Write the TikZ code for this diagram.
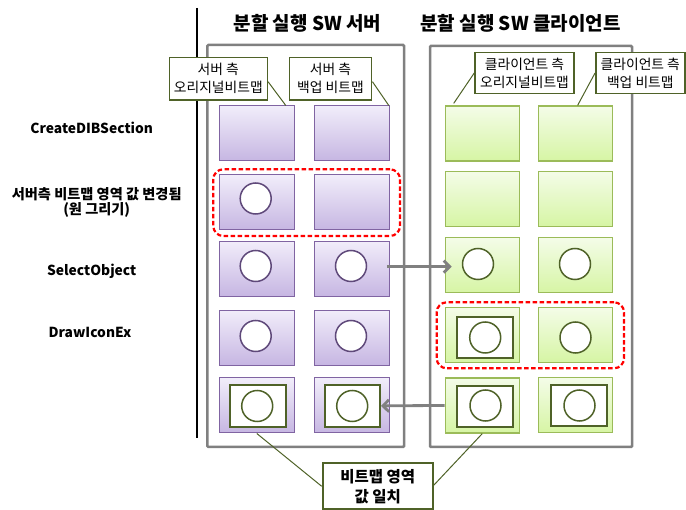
\documentclass[tikz,border=0pt]{standalone}
\usepackage{fontspec}
\setmainfont{Noto Sans CJK KR}
\usetikzlibrary{arrows.meta,calc}
\definecolor{ptop}{HTML}{F1EDFA}
\definecolor{pbot}{HTML}{C6B6E2}
\definecolor{pborder}{HTML}{8064A2}
\definecolor{pcircle}{HTML}{5F497A}
\definecolor{gtop}{HTML}{F4FCE8}
\definecolor{gbot}{HTML}{D6F5A4}
\definecolor{gborder}{HTML}{9BBB59}
\definecolor{olivedk}{HTML}{4F6228}
\definecolor{panelgray}{HTML}{808080}
\definecolor{dashred}{HTML}{FF0000}
\begin{document}
\begin{tikzpicture}[x=1pt,y=-1pt,
  panel/.style={draw=panelgray,line width=2.5pt,rounded corners=1pt,inner sep=0pt},
  pbox/.style={draw=pborder,line width=1pt,top color=ptop,bottom color=pbot,minimum width=75pt,minimum height=55pt,inner sep=0pt},
  gbox/.style={draw=gborder,line width=1.2pt,top color=gtop,bottom color=gbot,minimum width=74pt,minimum height=55pt,inner sep=0pt},
  pcirc/.style={circle,draw=pcircle,line width=1.5pt,fill=white,minimum size=31pt,inner sep=0pt},
  gcirc/.style={circle,draw=olivedk,line width=1.5pt,fill=white,minimum size=31pt,inner sep=0pt},
  inrect/.style={draw=olivedk,line width=2pt,fill=white,inner sep=0pt,minimum width=56pt,minimum height=41.5pt},
  redgroup/.style={draw=dashred,line width=2.2pt,dash pattern=on 4.5pt off 2.5pt,rounded corners=10pt,inner sep=0pt},
  callout/.style={draw=olivedk,line width=1.5pt,fill=white,align=center,inner sep=0pt,font=\fontsize{13.8}{18}\selectfont},
  pointer/.style={draw=olivedk,line width=1pt},
  garrow/.style={draw=panelgray,line width=2.8pt,-{Straight Barb[length=6pt,width=12pt]}},
  title/.style={font=\bfseries\fontsize{19}{22}\selectfont},
  rowlabel/.style={font=\bfseries\fontsize{13.8}{16}\selectfont,align=center}
]
\useasboundingbox (0,0) rectangle (686,510);

% separator line
\draw[line width=2pt] (196.5,8) -- (196.5,438);

% titles
\node[title] (ts) at (307.5,23) {분할 실행 SW 서버};
\node[title] (tc) at (520.5,23) {분할 실행 SW 클라이언트};

% row labels
\node[rowlabel] (l1) at (91.7,128) {CreateDIBSection};
\node[rowlabel,font=\bfseries\fontsize{14.2}{15.5}\selectfont] (l2) at (96.7,202.5) {서버측 비트맵 영역 값 변경됨\\(원 그리기)};
\node[rowlabel] (l3) at (91.7,271.7) {SelectObject};
\node[rowlabel] (l4) at (90,332) {DrawIconEx};

% panels
\node[panel,minimum width=196.7pt,minimum height=402pt] (sp) at (305.65,246) {};
\node[panel,minimum width=202pt,minimum height=401pt] (cp) at (531,246.5) {};

% red dashed groups
\node[redgroup,minimum width=186.7pt,minimum height=66.7pt] (rs) at (306.65,202.65) {};
\node[redgroup,minimum width=187.3pt,minimum height=66pt] (rc) at (530.35,335.3) {};

% server boxes
\node[pbox] (s11) at (256.8,133.5) {};
\node[pbox] (s12) at (351.8,133.5) {};
\node[pbox] (s21) at (256.8,202.5) {};
\node[pbox] (s22) at (351.8,202.5) {};
\node[pbox] (s31) at (256.8,269) {};
\node[pbox] (s32) at (351.8,269) {};
\node[pbox] (s41) at (256.8,338) {};
\node[pbox] (s42) at (351.8,338) {};
\node[pbox] (s51) at (256.8,405.5) {};
\node[pbox] (s52) at (351.8,405.5) {};

\node[pcirc] (s21c) at (255.7,198.5) {};
\node[pcirc] (s31c) at (255.7,266) {};
\node[pcirc] (s32c) at (351,266) {};
\node[pcirc] (s41c) at (255.7,336) {};
\node[pcirc] (s42c) at (351,336) {};
\node[inrect] (s51i) at (257.5,405.8) {};
\node[inrect,minimum width=55pt] (s52i) at (352.5,405.8) {};
\node[gcirc] (s51c) at (257.2,406) {};
\node[gcirc] (s52c) at (352.2,406) {};

% client boxes
\node[gbox] (c11) at (482.3,133.5) {};
\node[gbox] (c12) at (575.2,133.5) {};
\node[gbox] (c21) at (482.3,199) {};
\node[gbox] (c22) at (575.2,199) {};
\node[gbox] (c31) at (482.3,265.4) {};
\node[gbox] (c32) at (575.2,265.4) {};
\node[gbox] (c41) at (482.3,334.8) {};
\node[gbox] (c42) at (575.2,334.8) {};
\node[gbox] (c51) at (482.3,405.5) {};
\node[gbox] (c52) at (575.2,405.3) {};

\node[gcirc] (c31c) at (478,264) {};
\node[gcirc] (c32c) at (575,264) {};
\node[inrect,minimum height=41pt] (c41i) at (485.3,337.2) {};
\node[gcirc] (c41c) at (485.2,337.5) {};
\node[gcirc] (c42c) at (575.5,337.5) {};
\node[inrect,minimum height=41pt] (c51i) at (485.3,406.2) {};
\node[gcirc] (c51c) at (485.5,405.5) {};
\node[inrect,minimum width=55.7pt,minimum height=41pt] (c52i) at (578.8,405.5) {};
\node[gcirc] (c52c) at (579.5,405.5) {};

% callouts
\node[callout,minimum width=98pt,minimum height=42.7pt] (k1) at (218.3,78.7) {서버 측\\오리지널비트맵};
\node[callout,minimum width=82.4pt,minimum height=42.7pt] (k2) at (330.5,78.7) {서버 측\\백업 비트맵};
\node[callout,minimum width=99pt,minimum height=40.6pt] (k3) at (524.5,73) {클라이언트 측\\오리지널비트맵};
\node[callout,minimum width=89pt,minimum height=40.6pt] (k4) at (640.3,73) {클라이언트 측\\백업 비트맵};
\node[callout,line width=2pt,minimum width=110pt,minimum height=46pt,font=\bfseries\fontsize{15.5}{20}\selectfont] (kb) at (377.7,486.3) {비트맵 영역\\값 일치};

\draw[pointer] ($(k1.east)+(0,3)$) -- ($(s11.north east)+(-9,0)$);
\draw[pointer] ($(k2.east)+(0,3)$) -- ($(s12.north east)+(-1,0)$);
\draw[pointer] (k3.west) -- ($(c11.north west)+(9,-2)$);
\draw[pointer] (k4.west) -- ($(c12.north west)+(40,0)$);
\draw[pointer] (kb.west) -- (s51.south);
\draw[pointer] ($(kb.east)+(0,-1)$) -- (c51.south);

% arrows
\draw[garrow] ($(s32.east)+(-3,-2.3)$) -- ($(c31.west)+(7,1.3)$);
\draw[garrow] (c51.west) -- (s52i.east);
\end{tikzpicture}
\end{document}
